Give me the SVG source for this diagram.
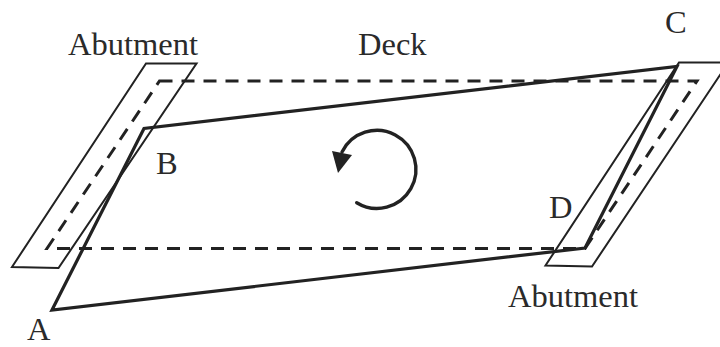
<svg xmlns="http://www.w3.org/2000/svg" width="720" height="347" viewBox="0 0 720 347">
<style>
.abut{fill:none;stroke:#222;stroke-width:2;stroke-linejoin:miter}
.deck{fill:none;stroke:#222;stroke-width:3.2;stroke-linejoin:miter}
.dash{fill:none;stroke:#222;stroke-width:3;stroke-dasharray:13 9}
.lbl{font-family:"Liberation Serif","Times New Roman",serif;font-size:32.5px;fill:#2a2a2a}
</style>
<rect width="720" height="347" fill="#fff"/>
<g id="connectors">
<path id="rotation" d="M356.7 202.7A39 39 0 1 0 342 152" fill="none" stroke="#222" stroke-width="3.4" stroke-linecap="round"/>
<polygon points="332,151 352,155 338,173" fill="#222"/>
</g>
<g id="abutment-left"><path class="abut" d="M146 63.5H196.5L58.5 268L12 267Z"/><text class="lbl" x="68" y="55">Abutment</text></g>
<g id="abutment-right"><path class="abut" d="M722 62.5H679L545.5 265.5L592 266.5L722 72"/><text class="lbl" x="508" y="307">Abutment</text></g>
<g id="deck-original"><path class="dash" d="M159.5 81H697L585 248.5H47Z"/><text class="lbl" x="358" y="55">Deck</text></g>
<g id="deck-rotated"><path class="deck" d="M52 310L144 128.5L677 66.5L585 248Z"/></g>
<g id="point-a"><text class="lbl" x="27" y="339.5">A</text></g>
<g id="point-b"><text class="lbl" x="156" y="174">B</text></g>
<g id="point-c"><text class="lbl" x="665" y="33">C</text></g>
<g id="point-d"><text class="lbl" x="549" y="218">D</text></g>
</svg>
